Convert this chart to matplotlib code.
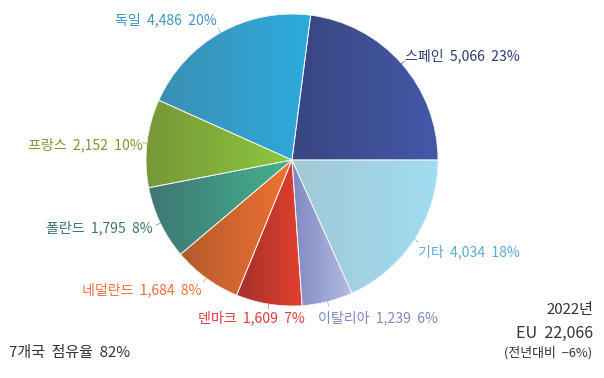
import numpy as np
import matplotlib
matplotlib.use("Agg")
import matplotlib.pyplot as plt
from matplotlib.colors import LinearSegmentedColormap

plt.rcParams['font.family'] = ['Noto Sans CJK KR', 'DejaVu Sans']

# ---- data ----
countries = ['스페인', '독일', '프랑스', '폴란드', '네덜란드', '덴마크', '이탈리아', '기타']
values = [5066, 4486, 2152, 1795, 1684, 1609, 1239, 4034]
shares = [23, 20, 10, 8, 8, 7, 6, 18]
year_label = '2022년'
total_label = 'EU  22,066'
change_label = '(전년대비  −6%)'
top7_label = '7개국  점유율  82%'

# ---- styles ----
grad_left = ['#374680', '#3a90b2', '#779638', '#3f7675', '#b45a2c', '#a5302a', '#8088c2', '#a2c8d6']
grad_right = ['#4558a8', '#2eaade', '#8cc83e', '#44b38c', '#f07232', '#e2402e', '#b4bce2', '#a0ddf2']
label_colors = ['#2f3b72', '#3b98c4', '#7a9a2e', '#3d7474', '#f07040', '#e03c3c', '#7f88c8', '#5aaed2']
# label anchor (pixel x, pixel y, ha)
label_pos = [(405, 56, 'left'), (217, 20, 'right'), (143, 145, 'right'), (153, 228, 'right'),
             (201, 290, 'right'), (305, 318, 'right'), (318, 318, 'left'), (418, 252, 'left')]

W, H = 604, 378
CX, CY, R = 292, 160, 146

fig = plt.figure(figsize=(W / 100, H / 100), dpi=100)
ax = fig.add_axes([0, 0, 1, 1])

def px2d(px, py):
    return (px - CX) / R, (CY - py) / R

wedges, _ = ax.pie(values, startangle=0, counterclock=True, radius=1, center=(0, 0),
                   colors=grad_right, frame=True,
                   wedgeprops=dict(edgecolor='#f4f4f4', linewidth=0.6))
ax.set_xlim(-CX / R, (W - CX) / R)
ax.set_ylim(-(H - CY) / R, CY / R)
ax.set_aspect('auto')
ax.axis('off')

fig.canvas.draw()
for w, cl, cr in zip(wedges, grad_left, grad_right):
    verts = w.get_path().vertices
    tr = w.get_patch_transform()
    v = tr.transform(verts)
    x0, x1 = v[:, 0].min(), v[:, 0].max()
    y0, y1 = v[:, 1].min(), v[:, 1].max()
    cmap = LinearSegmentedColormap.from_list('g', [cl, cr])
    grad = np.linspace(0, 1, 256).reshape(1, -1)
    im = ax.imshow(grad, cmap=cmap, extent=[x0, x1, y0, y1], aspect='auto',
                   interpolation='bilinear', zorder=w.get_zorder() + 0.1)
    im.set_clip_path(w)
    w.set_facecolor('none')
    w.set_zorder(w.get_zorder() + 0.2)

# labels
for name, val, sh, col, (px, py, ha), w in zip(countries, values, shares, label_colors, label_pos, wedges):
    x, y = px2d(px, py)
    ax.text(x, y, f'{name}  {val:,}  {sh}%', color=col, fontsize=10.1, ha=ha, va='center')
    ang = np.deg2rad((w.theta1 + w.theta2) / 2)
    ex, ey = np.cos(ang) * 1.0, np.sin(ang) * 1.0
    ax.plot([ex, ex * 1.03], [ey, ey * 1.03], color=col, lw=0.6, alpha=0.7, zorder=5)

x, y = px2d(9, 353)
ax.text(x, y, top7_label, color='#333333', fontsize=10.8, ha='left', va='center')
x, y = px2d(593, 310)
ax.text(x, y, year_label, color='#333333', fontsize=10.8, ha='right', va='center')
x, y = px2d(593, 333)
ax.text(x, y, total_label, color='#333333', fontsize=11.5, ha='right', va='center')
x, y = px2d(592, 353)
ax.text(x, y, change_label, color='#333333', fontsize=9.3, ha='right', va='center')

fig.savefig('out.png', dpi=100)
